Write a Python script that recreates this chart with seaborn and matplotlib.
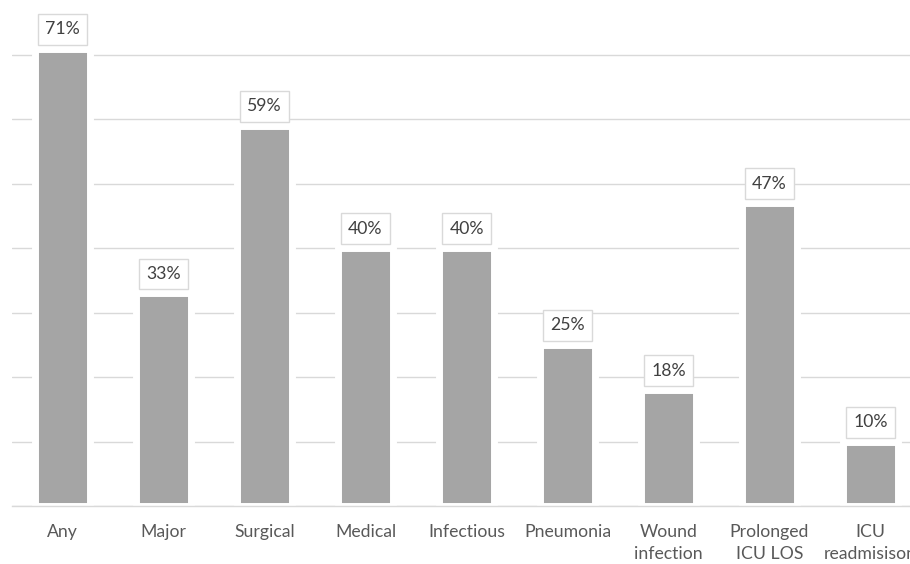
import matplotlib
matplotlib.use("Agg")
import matplotlib.pyplot as plt
import seaborn as sns
import numpy as np

# Complication rates
categories = ["Any", "Major", "Surgical", "Medical", "Infectious", "Pneumonia",
              "Wound\ninfection", "Prolonged\nICU LOS", "ICU\nreadmisison"]
values = [71, 33, 59, 40, 40, 25, 18, 47, 10]
labels = ["71%", "33%", "59%", "40%", "40%", "25%", "18%", "47%", "10%"]

sns.set_style("white")
plt.rcParams["font.family"] = ["Lato", "DejaVu Sans"]

fig = plt.figure(figsize=(9.1, 5.64), dpi=100)
ax = fig.add_axes([12 / 910, 58 / 564, 909 / 910, 515.4 / 564])

sns.barplot(x=categories, y=values, color="#A5A5A5", saturation=1,
            width=0.535, edgecolor="white", linewidth=5, ax=ax, zorder=3)

ax.set_ylim(0, 80)
ax.set_xlim(-0.5, len(categories) - 0.5)
ax.set_yticks(np.arange(0, 81, 10))
ax.yaxis.grid(True, color="#D9D9D9", linewidth=1)
ax.set_axisbelow(True)
ax.tick_params(axis="y", left=False, labelleft=False)

for s in ["top", "right", "left"]:
    ax.spines[s].set_visible(False)
ax.spines["bottom"].set_color("#D9D9D9")
ax.spines["bottom"].set_linewidth(1)
ax.spines["bottom"].set_zorder(5)

# category boundary ticks
ax.set_xticks(np.arange(-0.5, len(categories), 1), minor=True)
ax.tick_params(axis="x", which="minor", length=6, color="#D9D9D9", width=1)
ax.tick_params(axis="x", which="major", length=0, pad=13,
               labelsize=12.7, labelcolor="#595959")
for t in ax.get_xticklabels():
    t.set_linespacing(1.45)
ax.set_xlabel("")

for i, (v, lab) in enumerate(zip(values, labels)):
    ax.annotate(lab, xy=(i, v), xytext=(0, 14), textcoords="offset points",
                ha="center", va="center", fontsize=12.7, color="#404040",
                bbox=dict(boxstyle="square,pad=0.42", fc="white",
                          ec="#D9D9D9", lw=1), zorder=6, annotation_clip=False)

fig.savefig("out.png", dpi=100)
